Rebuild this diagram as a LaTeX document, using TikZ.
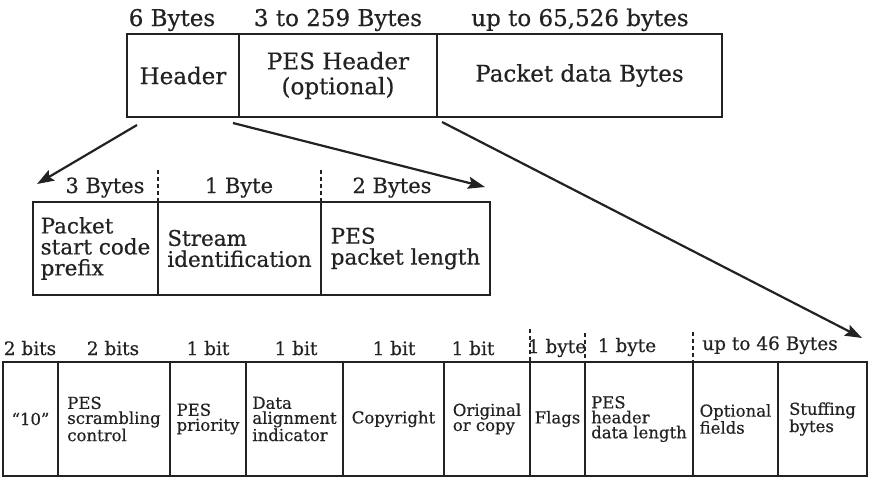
\documentclass[tikz,border=0pt]{standalone}
\usepackage{fontspec}
\setmainfont{DejaVu Serif}[FakeBold=0.5]
\usetikzlibrary{arrows.meta}
\definecolor{ink}{HTML}{222222}
\begin{document}
\begin{tikzpicture}[x=1pt,y=-1pt,
  cell/.style={draw=ink, line width=2.2pt, inner sep=0pt, outer sep=0pt, anchor=north west, align=left, text=ink},
  topcell/.style={cell, minimum height=83pt, font=\fontsize{23}{25}\selectfont},
  midcell/.style={cell, minimum height=93pt, font=\fontsize{21.5}{21}\selectfont},
  botcell/.style={cell, minimum height=114pt, font=\fontsize{16.5}{15}\selectfont},
  toplbl/.style={anchor=base, inner sep=0pt, text=ink, font=\fontsize{23}{25}\selectfont},
  midlbl/.style={anchor=base, inner sep=0pt, text=ink, font=\fontsize{21}{21}\selectfont},
  botlbl/.style={anchor=base, inner sep=0pt, text=ink, font=\fontsize{18.5}{18}\selectfont},
  sep/.style={draw=ink, line width=1.4pt, dash pattern=on 4pt off 3pt},
  arr/.style={draw=ink, line width=2.2pt, -{Stealth[length=17pt,width=12pt,inset=3pt]}}
]
\useasboundingbox (0,0) rectangle (872,479);

% ---- top packet ----
\node[topcell, minimum width=112pt] (hdr) at (127,34) {Header};
\node[topcell, minimum width=198pt, align=center] (pesh) at (239,34) {PES Header\\(optional)};
\node[topcell, minimum width=285pt] (data) at (437,34) {Packet data Bytes};
\node[toplbl] (l1) at (172,26) {6 Bytes};
\node[toplbl] (l2) at (338,26) {3 to 259 Bytes};
\node[toplbl] (l3) at (580,26) {up to 65,526 bytes};

% ---- middle header ----
\node[midcell, minimum width=125pt] (psc) at (33,202) {Packet\\start code\\prefix};
\node[midcell, minimum width=163pt] (sid) at (158,202) {Stream\\identification};
\node[midcell, minimum width=169pt] (plen) at (321,202) {PES\\packet length};
\node[midlbl] (m1) at (105,193) {3 Bytes};
\node[midlbl] (m2) at (239,193) {1 Byte};
\node[midlbl] (m3) at (392,193) {2 Bytes};
\coordinate (d1t) at (158,170); \coordinate (d1b) at (158,202);
\coordinate (d2t) at (321,170); \coordinate (d2b) at (321,202);
\draw[sep] (d1t) -- (d1b);
\draw[sep] (d2t) -- (d2b);

% ---- bottom PES header ----
\node[botcell, minimum width=55pt] (b1) at (3,362) {“10”};
\node[botcell, minimum width=112pt] (b2) at (58,362) {PES\\scrambling\\control};
\node[botcell, minimum width=76pt] (b3) at (170,362) {PES\\priority};
\node[botcell, minimum width=97pt] (b4) at (246,362) {Data\\alignment\\indicator};
\node[botcell, minimum width=101pt] (b5) at (343,362) {Copyright};
\node[botcell, minimum width=86pt] (b6) at (444,362) {Original\\or copy};
\node[botcell, minimum width=55pt] (b7) at (530,362) {Flags};
\node[botcell, minimum width=108pt] (b8) at (585,362) {PES\\header\\data length};
\node[botcell, minimum width=85pt] (b9) at (693,362) {Optional\\fields};
\node[botcell, minimum width=89pt] (b10) at (778,362) {Stuffing\\bytes};

\node[botlbl] (t1) at (30,355) {2 bits};
\node[botlbl] (t2) at (113,355) {2 bits};
\node[botlbl] (t3) at (208,355) {1 bit};
\node[botlbl] (t4) at (296,355) {1 bit};
\node[botlbl] (t5) at (394,355) {1 bit};
\node[botlbl] (t6) at (473,355) {1 bit};
\node[botlbl] (t7) at (557,353) {1 byte};
\node[botlbl] (t8) at (627,352) {1 byte};
\node[botlbl] (t9) at (770,350) {up to 46 Bytes};
\coordinate (e1t) at (530,329); \coordinate (e1b) at (530,362);
\coordinate (e2t) at (585,333); \coordinate (e2b) at (585,362);
\coordinate (e3t) at (693,332); \coordinate (e3b) at (693,362);
\draw[sep] (e1t) -- (e1b);
\draw[sep] (e2t) -- (e2b);
\draw[sep] (e3t) -- (e3b);

% ---- arrows ----
\coordinate (a1s) at (137,125); \coordinate (a1e) at (37,184);
\coordinate (a2s) at (233,123); \coordinate (a2e) at (485,187);
\coordinate (a3s) at (442,122); \coordinate (a3e) at (862,338);
\draw[arr] (a1s) -- (a1e);
\draw[arr] (a2s) -- (a2e);
\draw[arr] (a3s) -- (a3e);
\end{tikzpicture}
\end{document}
